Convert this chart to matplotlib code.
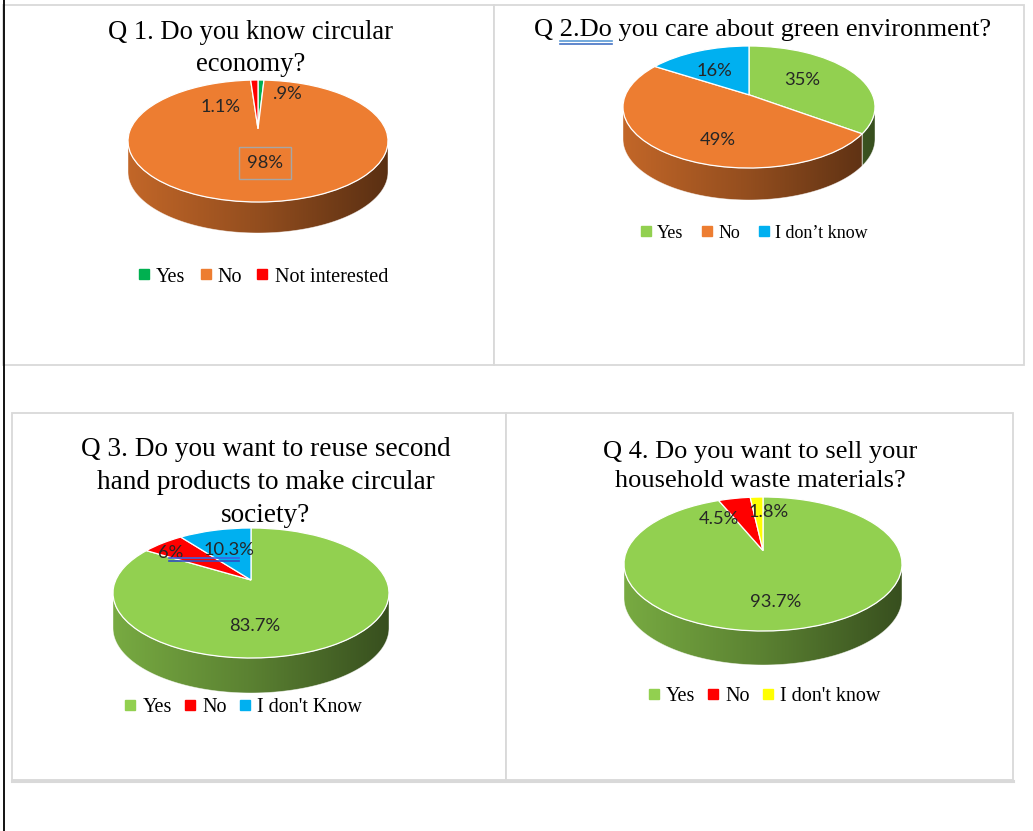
import numpy as np
import matplotlib
matplotlib.use("Agg")
import matplotlib.pyplot as plt
from matplotlib.patches import Rectangle, Polygon
from matplotlib.lines import Line2D
from matplotlib.colors import LinearSegmentedColormap, to_rgb
from matplotlib.transforms import Transform

W, H = 1033, 831

# survey answers (percent of respondents)
q1_labels = ['Yes', 'No', 'Not interested']
q1_values = [0.9, 98, 1.1]
q1_colors = ['#00b050', '#ed7d31', '#ff0000']

q2_labels = ['Yes', 'No', 'I don\u2019t know']
q2_values = [35, 49, 16]
q2_colors = ['#92d050', '#ed7d31', '#00b0f0']

q3_labels = ['Yes', 'No', "I don't Know"]
q3_values = [83.7, 6, 10.3]
q3_colors = ['#92d050', '#ff0000', '#00b0f0']

q4_labels = ['Yes', 'No', "I don't know"]
q4_values = [93.7, 4.5, 1.8]
q4_colors = ['#92d050', '#ff0000', '#ffff00']

SERIF = 'Liberation Serif'
SANS = 'Lato'
TILT = 0.2  # perspective strength of the 3-D discs


class Tilt(Transform):
    """Perspective view of the unit disc, rescaled so its rim fills [-1, 1]^2."""
    input_dims = output_dims = 2

    def __init__(self, k):
        super().__init__()
        self.k = k

    def transform_non_affine(self, xy):
        xy = np.asarray(xy, dtype=float)
        k = self.k
        f = 1.0 / (1.0 + k * xy[:, 1])
        X = xy[:, 0] * f * np.sqrt(1 - k * k)
        Y = xy[:, 1] * f * (1 - k * k) + k
        return np.column_stack([X, Y])


fig = plt.figure(figsize=(W / 100, H / 100), dpi=100)
fig.patch.set_facecolor('white')

# page background in pixel units
bg = fig.add_axes([0, 0, 1, 1])
bg.set_xlim(0, W)
bg.set_ylim(H, 0)
bg.axis('off')
bg.plot([3.5, 3.5], [0, H], color='black', lw=1.3, solid_capstyle='butt')
for (x0, y0, x1, y1) in [(3, 5, 494, 365), (494, 5, 1024, 365),
                         (12, 413, 506, 780), (506, 413, 1013, 780)]:
    bg.add_patch(Rectangle((x0, y0), x1 - x0, y1 - y0, fc='white',
                           ec='#d9d9d9', lw=1.3))
bg.plot([12, 1013], [780.5, 780.5], color='#d9d9d9', lw=2.2)


def fx(x):
    return x / W


def fy(y):
    return 1 - y / H


def pct(v):
    s = '{:g}'.format(v)
    if s.startswith('0.'):
        s = s[1:]
    return s + '%'


def squiggle(x0, x1, y, colors):
    # double proofing underline drawn over everything
    for i, c in enumerate(colors):
        fig.add_artist(Line2D([fx(x0), fx(x1)], [fy(y + 3 * i), fy(y + 3 * i)],
                              transform=fig.transFigure, color=c, lw=1.2,
                              zorder=10))


def draw_pie(cx, cy, a, b, depth, values, colors, label_pos, boxed=None):
    d = depth / b
    ax = fig.add_axes([fx(cx - a), fy(cy + b + depth), 2 * a / W, (2 * b + depth) / H])
    wedges, _ = ax.pie(values, colors=colors, startangle=90, counterclock=False,
                       radius=1, wedgeprops=dict(edgecolor='white', linewidth=0.9,
                                                 zorder=3))
    ax.axis('off')
    tilt = Tilt(TILT)
    for w in wedges:
        w.set_transform(tilt + ax.transData)
    # front wall of the disc, between the two silhouette points
    edge = np.degrees(np.arcsin(TILT))
    grad = np.linspace(0, 1, 256)[None, :]
    for w, c in zip(wedges, colors):
        lo, hi = max(w.theta1, -180 + edge), min(w.theta2, -edge)
        if hi <= lo:
            continue
        th = np.radians(np.linspace(lo, hi, 150))
        top = tilt.transform(np.column_stack([np.cos(th), np.sin(th)]))
        bot = (top - [0, d])[::-1]
        verts = np.vstack([top, bot])
        rgb = np.array(to_rgb(c))
        cmap = LinearSegmentedColormap.from_list(
            'wall', [rgb * 0.82, rgb * 0.62, rgb * 0.38])
        clip = Polygon(verts, closed=True, fc='none', ec='none')
        ax.add_patch(clip)
        im = ax.imshow(grad, extent=(-1, 1, -1 - d, 1), aspect='auto',
                       cmap=cmap, zorder=1, interpolation='bilinear')
        im.set_clip_path(clip)
        ax.add_patch(Polygon(verts, closed=True, fc='none', ec='white',
                             lw=0.5, alpha=0.6, zorder=2))
    ax.set_aspect('auto')
    ax.set_xlim(-1, 1)
    ax.set_ylim(-1 - d, 1)
    for i, (v, (x, y)) in enumerate(zip(values, label_pos)):
        kw = {}
        if boxed == i:
            kw['bbox'] = dict(boxstyle='square,pad=0.45', fc='none',
                              ec='#a6a6a6', lw=1)
        fig.text(fx(x), fy(y), pct(v), ha='center', va='center',
                 family=SANS, fontsize=13.2, color='#262626', zorder=5, **kw)
    return ax


def title(x, y, s, size=19.2):
    fig.text(fx(x), fy(y), s, ha='center', va='center', family=SERIF,
             fontsize=size, linespacing=1.42, color='black')


def legend(x, y, labels, colors, size=14.5, spacing=0.6):
    handles = [Line2D([], [], marker='s', linestyle='none', markersize=6.5,
                      color=c) for c in colors]
    fig.legend(handles, labels, loc='center', bbox_to_anchor=(fx(x), fy(y)),
               ncol=3, frameon=False, prop={'family': SERIF, 'size': size},
               handletextpad=0.2, columnspacing=spacing, handlelength=0.8,
               borderpad=0, borderaxespad=0)


# Q1
title(251, 48.5, 'Q 1. Do you know circular\neconomy?')
draw_pie(258, 141, 130, 61, 31, q1_values, q1_colors,
         [(288, 94), (265, 163), (221, 107)], boxed=1)
legend(262, 277, q1_labels, q1_colors)

# Q2
title(763, 30, 'Q 2.Do you care about green environment?', size=19.0)
squiggle(560, 612, 40.5, ['#5b9bd5', '#4472c4'])
draw_pie(749, 107, 126, 61, 32, q2_values, q2_colors,
         [(802, 80), (718, 140), (714, 71)])
legend(753, 233, q2_labels, q2_colors, size=13, spacing=0.95)

# Q3
title(266, 482.5, 'Q 3. Do you want to reuse second\nhand products to make circular\nsociety?',
      size=19.6)
draw_pie(251, 593, 138, 65, 35, q3_values, q3_colors,
         [(255, 626), (171, 553), (229, 550)])
squiggle(169, 239, 557.5, ['#3d63e0', '#2f4fc0'])
legend(242, 707, q3_labels, q3_colors, spacing=0.5)

# Q4
title(760, 466.5, 'Q 4. Do you want to sell your\nhousehold waste materials?', size=19.0)
draw_pie(763, 564, 139, 67, 34, q4_values, q4_colors,
         [(776, 602), (719, 519), (769, 512)])
legend(763, 696, q4_labels, q4_colors, spacing=0.5)

fig.savefig('out.png', dpi=100)
